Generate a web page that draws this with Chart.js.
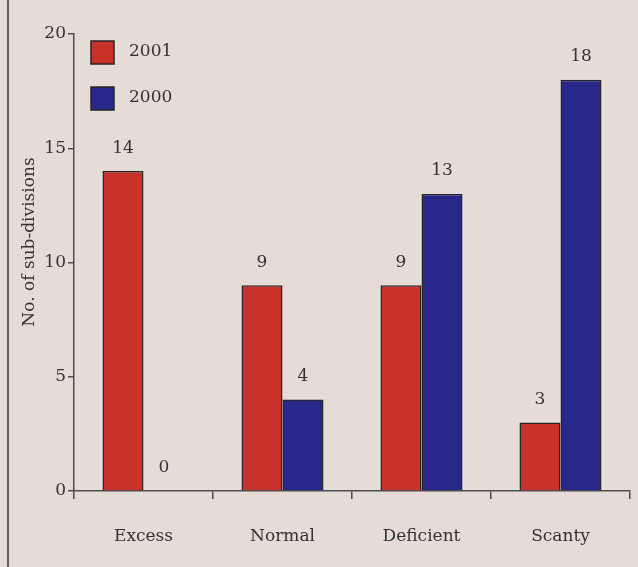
<!DOCTYPE html>
<html>
<head>
<meta charset="utf-8">
<script src="https://cdn.jsdelivr.net/npm/chart.js@4/dist/chart.umd.min.js"></script>
<style>
  html, body { margin: 0; padding: 0; background: #e5dcd8; }
  #wrap { position: relative; width: 638px; height: 567px; }
  canvas { display: block; }
</style>
</head>
<body>
<div id="wrap"><canvas id="c" width="638" height="567"></canvas></div>
<script>
// Rainfall classes and number of meteorological sub-divisions in each
const categories = ['Excess', 'Normal', 'Deficient', 'Scanty'];
const seriesNames = ['2001', '2000'];
const values2001 = [14, 9, 9, 3];
const values2000 = [0, 4, 13, 18];
const yTicks = [0, 5, 10, 15, 20];
const yTitle = 'No. of sub-divisions';

const RED = '#c8322a';
const BLUE = '#29288a';
const INK = '#333333';
const EDGE = '#262626';
const AXIS = '#4d4d4d';
const FONT = '"DejaVu Serif", "Liberation Serif", serif';

// Frame line along the left edge, value labels, legend and y title
const decor = {
  id: 'decor',
  beforeDraw(chart) {
    const ctx = chart.ctx;
    ctx.save();
    ctx.fillStyle = '#e5dcd8';
    ctx.fillRect(0, 0, chart.width, chart.height);
    ctx.strokeStyle = '#3a3a3a';
    ctx.lineWidth = 1.5;
    ctx.beginPath();
    ctx.moveTo(8, 0);
    ctx.lineTo(8, chart.height);
    ctx.stroke();
    ctx.restore();
  },
  afterDatasetsDraw(chart) {
    const ctx = chart.ctx;
    ctx.save();
    ctx.font = '17px ' + FONT;
    ctx.fillStyle = INK;
    ctx.textAlign = 'center';
    ctx.textBaseline = 'middle';
    chart.data.datasets.forEach((ds, i) => {
      chart.getDatasetMeta(i).data.forEach((bar, j) => {
        ctx.fillText(String(ds.data[j]), bar.x, bar.y - 23);
      });
    });

    // legend
    chart.data.datasets.forEach((ds, i) => {
      const x = 91, y = 41 + i * 46;
      ctx.fillStyle = ds.backgroundColor;
      ctx.fillRect(x, y, 23, 23);
      ctx.strokeStyle = EDGE;
      ctx.lineWidth = 1.5;
      ctx.strokeRect(x, y, 23, 23);
      ctx.fillStyle = INK;
      ctx.textAlign = 'left';
      ctx.fillText(ds.label, 129, y + 11);
    });

    // y axis title
    ctx.translate(30, 242);
    ctx.rotate(-Math.PI / 2);
    ctx.textAlign = 'center';
    ctx.font = '17px ' + FONT;
    ctx.fillText(yTitle, 0, 0);
    ctx.restore();
  }
};

new Chart(document.getElementById('c'), {
  type: 'bar',
  data: {
    labels: categories,
    datasets: [
      { label: seriesNames[0], data: values2001, backgroundColor: RED,
        borderColor: EDGE, borderWidth: 1.5, borderSkipped: 'bottom' },
      { label: seriesNames[1], data: values2000, backgroundColor: BLUE,
        borderColor: EDGE, borderWidth: 1.5, borderSkipped: 'bottom' }
    ]
  },
  options: {
    responsive: false,
    animation: false,
    devicePixelRatio: 1,
    layout: { padding: { top: 34, right: 8, left: 0, bottom: 0 } },
    datasets: { bar: { categoryPercentage: 0.59, barPercentage: 1.0 } },
    plugins: {
      legend: { display: false },
      tooltip: { enabled: false },
      title: { display: false }
    },
    scales: {
      x: {
        offset: true,
        grid: { display: true, drawOnChartArea: false, drawTicks: true,
                tickLength: 8, color: AXIS, lineWidth: 1.5, offset: true },
        border: { display: true, color: AXIS, width: 1.5 },
        ticks: { color: INK, font: { family: FONT, size: 17 }, padding: 27 },
        afterFit(s) { s.height = 76; }
      },
      y: {
        min: 0,
        max: 20,
        afterBuildTicks(s) { s.ticks = yTicks.map(v => ({ value: v })); },
        grid: { display: true, drawOnChartArea: false, drawTicks: true,
                tickLength: 6, color: AXIS, lineWidth: 1.5 },
        border: { display: true, color: AXIS, width: 1.5 },
        ticks: { color: INK, font: { family: FONT, size: 17 }, padding: 2 },
        afterFit(s) { s.width = 74; }
      }
    }
  },
  plugins: [decor]
});
</script>
</body>
</html>
